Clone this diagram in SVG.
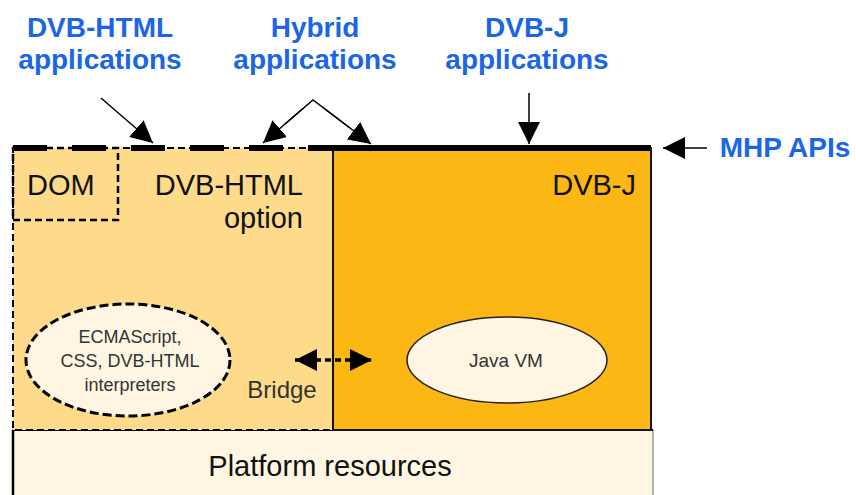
<svg xmlns="http://www.w3.org/2000/svg" width="856" height="495" viewBox="0 0 856 495">
<style>
.lbl{font-family:"Liberation Sans",Arial,sans-serif;font-weight:bold;font-size:28px;fill:#1a66e6;text-anchor:middle}
.txt{font-family:"Liberation Sans",Arial,sans-serif;font-size:29px;fill:#111}
.small{font-family:"Liberation Sans",Arial,sans-serif;fill:#333;text-anchor:middle}
.arr{stroke:#000;stroke-width:1.5;fill:none;marker-end:url(#ah)}
</style>
<defs>
<marker id="ah" viewBox="0 0 22 22" refX="22" refY="11" markerWidth="22" markerHeight="22" markerUnits="userSpaceOnUse" orient="auto">
<path d="M0,0 L22,11 L0,22 Z" fill="#000"/>
</marker>
<marker id="bh" viewBox="0 0 22 22" refX="22" refY="11" markerWidth="22" markerHeight="22" markerUnits="userSpaceOnUse" orient="auto-start-reverse">
<path d="M0,0 L22,11 L0,22 Z" fill="#000"/>
</marker>
</defs>
<rect width="856" height="495" fill="#fff"/>

<g id="platform">
<rect x="13" y="430" width="640" height="70" fill="#fef6e3" stroke="#999" stroke-width="1.5"/>
<line x1="13" y1="430" x2="653" y2="430" stroke="#000" stroke-width="2"/>
<line x1="13" y1="430" x2="13" y2="495" stroke="#000" stroke-width="2.5"/>
<text class="txt" x="330" y="476" text-anchor="middle">Platform resources</text>
</g>

<g id="dvbhtml">
<rect x="13" y="148" width="320" height="282" fill="#fddb8b" stroke="#000" stroke-width="2" stroke-dasharray="7 4"/>
<text class="txt" x="303" y="195" text-anchor="end">DVB-HTML</text>
<text class="txt" x="303" y="228" text-anchor="end">option</text>
</g>

<g id="dom">
<rect x="13" y="148" width="105" height="72" fill="none" stroke="#000" stroke-width="2.5" stroke-dasharray="7 4"/>
<text class="txt" x="27" y="195">DOM</text>
</g>

<g id="dvbj">
<rect x="333" y="148" width="318" height="282" fill="#fdb714" stroke="#111" stroke-width="2"/>
<text class="txt" x="636" y="195" text-anchor="end">DVB-J</text>
</g>

<g id="interpreters">
<ellipse cx="128" cy="360" rx="102" ry="56" fill="#fef6e3" stroke="#000" stroke-width="3" stroke-dasharray="9 4"/>
<text class="small" x="130" y="343" font-size="18">ECMAScript,</text>
<text class="small" x="130" y="367" font-size="18">CSS, DVB-HTML</text>
<text class="small" x="130" y="391" font-size="18">interpreters</text>
</g>

<g id="javavm">
<ellipse cx="507" cy="360" rx="100" ry="43" fill="#fef6e3" stroke="#222" stroke-width="1.5"/>
<text class="small" x="506" y="367" font-size="19">Java VM</text>
</g>

<g id="bridge">
<text class="small" x="282" y="398" font-size="24">Bridge</text>
</g>

<g id="labels">
<text class="lbl" x="100" y="37">DVB-HTML</text>
<text class="lbl" x="100" y="69">applications</text>
<text class="lbl" x="315" y="37">Hybrid</text>
<text class="lbl" x="315" y="69">applications</text>
<text class="lbl" x="527" y="37">DVB-J</text>
<text class="lbl" x="527" y="69">applications</text>
<text class="lbl" x="785" y="157">MHP APIs</text>
</g>

<g id="connectors">
<line x1="13" y1="148" x2="308" y2="148" stroke="#000" stroke-width="6" stroke-dasharray="34 25"/>
<line x1="308" y1="148" x2="651" y2="148" stroke="#000" stroke-width="6"/>
<line class="arr" x1="101" y1="98" x2="153" y2="143"/>
<polyline points="285,124 313,100 350,128" fill="none" stroke="#000" stroke-width="1.5"/>
<line class="arr" x1="303" y1="108.5" x2="263" y2="143"/>
<line class="arr" x1="323" y1="107.5" x2="371" y2="144"/>
<line class="arr" x1="529" y1="93" x2="529" y2="144"/>
<line class="arr" x1="707" y1="148" x2="663" y2="148"/>
<line x1="295" y1="360" x2="372" y2="360" stroke="#000" stroke-width="3.5" stroke-dasharray="6 4" marker-start="url(#bh)" marker-end="url(#bh)"/>
</g>
</svg>
